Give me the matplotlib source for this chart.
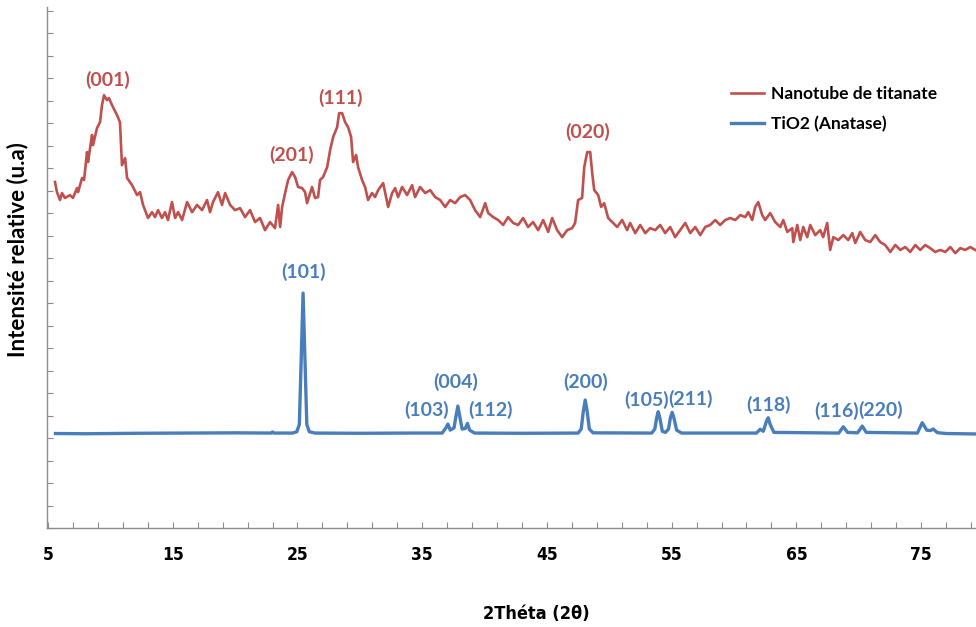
import numpy as np
import matplotlib.pyplot as plt

# XRD patterns: titanate nanotubes vs TiO2 anatase
# values (arbitrary intensity units)

nano_x = [5.56, 5.72, 5.96, 6.12, 6.36, 6.76, 7.00, 7.33, 7.41, 7.73, 7.89, 8.13, 8.21, 8.53,
          8.61, 8.93, 9.17, 9.33, 9.49, 9.73, 9.89, 10.13, 10.53, 10.77, 10.93, 11.18, 11.34,
          11.74, 12.14, 12.38, 12.62, 13.02, 13.34, 13.58, 13.82, 14.14, 14.38, 14.62, 14.94,
          15.19, 15.43, 15.75, 16.15, 16.55, 16.95, 17.35, 17.75, 17.99, 18.23, 18.63, 18.95,
          19.20, 19.60, 20.00, 20.40, 20.80, 21.20, 21.60, 22.00, 22.40, 22.80, 23.20, 23.45,
          23.61, 23.77, 24.01, 24.25, 24.57, 24.81, 25.05, 25.37, 25.61, 25.77, 26.17, 26.41,
          26.65, 26.81, 27.05, 27.38, 27.62, 27.86, 28.18, 28.34, 28.58, 28.82, 29.06, 29.30,
          29.46, 29.70, 29.86, 30.18, 30.42, 30.66, 30.98, 31.22, 31.47, 31.87, 32.27, 32.59,
          32.83, 33.07, 33.39, 33.79, 34.19, 34.43, 34.83, 35.24, 35.64, 36.04, 36.44, 36.84,
          37.24, 37.64, 38.04, 38.44, 38.84, 39.24, 39.65, 40.05, 40.29, 40.69, 41.09, 41.49,
          41.89, 42.29, 42.69, 43.09, 43.49, 43.89, 44.30, 44.70, 45.10, 45.42, 45.82, 46.22,
          46.62, 47.02, 47.26, 47.50, 47.82, 47.99, 48.23, 48.47, 48.63, 48.79, 49.11, 49.35,
          49.59, 49.91, 50.23, 50.63, 51.03, 51.43, 51.67, 52.08, 52.48, 52.88, 53.28, 53.68,
          54.08, 54.48, 54.88, 55.28, 55.68, 56.09, 56.49, 56.89, 57.29, 57.69, 58.09, 58.49,
          58.89, 59.29, 59.70, 60.10, 60.50, 60.90, 61.14, 61.46, 61.70, 61.94, 62.26, 62.50,
          62.90, 63.30, 63.71, 63.95, 64.27, 64.67, 64.75, 65.07, 65.31, 65.55, 65.87, 66.11,
          66.51, 66.91, 67.15, 67.47, 67.71, 67.96, 68.36, 68.76, 69.16, 69.48, 69.72, 70.12,
          70.52, 70.92, 71.32, 71.72, 72.12, 72.53, 72.93, 73.33, 73.73, 74.13, 74.53, 74.93,
          75.33, 75.73, 76.13, 76.54, 76.94, 77.34, 77.74, 78.14, 78.54, 78.94, 79.34]
nano_y = [15.38, 14.93, 14.58, 14.89, 14.67, 14.80, 14.67, 15.11, 14.93, 15.56, 15.47, 16.71, 16.27, 17.47,
          17.02, 17.78, 18.04, 18.80, 19.24, 19.02, 19.11, 18.80, 18.36, 18.04, 16.13, 16.44, 15.56,
          15.24, 14.80, 14.93, 14.36, 13.78, 14.04, 13.82, 14.13, 13.78, 14.04, 13.69, 14.49,
          13.78, 14.04, 13.69, 14.49, 14.04, 14.36, 14.13, 14.58, 14.04, 14.49, 14.93, 14.36,
          14.89, 14.36, 14.13, 14.22, 13.82, 14.13, 13.60, 13.78, 13.24, 13.60, 13.33, 14.36,
          13.38, 14.27, 14.89, 15.47, 15.82, 15.60, 15.16, 15.11, 14.93, 14.44, 15.16, 14.67,
          14.71, 15.47, 15.60, 16.04, 16.80, 17.38, 17.82, 18.44, 18.44, 18.04, 17.82, 17.38,
          16.27, 16.58, 16.04, 15.47, 15.16, 14.58, 14.89, 14.71, 15.02, 15.33, 14.27, 14.89,
          15.11, 14.71, 15.16, 14.80, 15.24, 14.71, 15.16, 14.89, 15.02, 14.71, 14.58, 14.27,
          14.58, 14.44, 14.71, 14.80, 14.58, 14.13, 13.82, 14.44, 14.00, 13.82, 13.69, 13.47,
          13.82, 13.56, 13.47, 13.78, 13.38, 13.60, 13.24, 13.69, 13.16, 13.78, 13.24, 12.93,
          13.24, 13.33, 13.56, 14.58, 14.67, 16.04, 16.71, 16.71, 15.78, 15.02, 14.80, 14.27,
          14.44, 13.78, 13.60, 13.38, 13.69, 13.24, 13.56, 13.11, 13.47, 13.11, 13.33, 13.24,
          13.47, 13.11, 13.38, 12.93, 13.24, 13.56, 13.11, 13.38, 13.02, 13.38, 13.47, 13.69,
          13.47, 13.69, 13.78, 13.69, 13.91, 13.82, 14.04, 13.69, 14.27, 14.49, 13.91, 13.69,
          14.00, 13.60, 13.38, 13.69, 13.16, 13.33, 12.71, 13.47, 12.80, 13.38, 12.93, 13.47,
          13.02, 13.24, 12.93, 13.56, 12.36, 12.93, 12.80, 13.02, 12.80, 13.11, 12.67, 13.16,
          12.80, 12.71, 13.02, 12.71, 12.58, 12.27, 12.58, 12.36, 12.49, 12.27, 12.58, 12.36,
          12.58, 12.44, 12.27, 12.36, 12.27, 12.49, 12.22, 12.44, 12.36, 12.49, 12.36]

anat_x = [5.6, 8.0, 12.0, 16.0, 20.0, 22.9, 23.0, 23.1, 24.6, 24.95, 25.15, 25.3, 25.45, 25.6,
          25.75, 25.95, 26.4, 30.0, 34.0, 36.6, 36.9, 37.06, 37.25, 37.55, 37.72, 37.86, 38.0,
          38.2, 38.45, 38.63, 38.8, 39.2, 43.0, 47.5, 47.75, 47.92, 48.07, 48.22, 48.4, 48.7,
          53.4, 53.65, 53.8, 53.92, 54.05, 54.25, 54.5, 54.75, 54.9, 55.04, 55.18, 55.4, 55.8,
          61.8, 62.1, 62.35, 62.6, 62.74, 62.9, 63.2, 68.4, 68.76, 69.1, 69.9, 70.28, 70.6,
          74.7, 75.09, 75.45, 75.75, 75.97, 76.3, 77.0, 79.4]
anat_y = [4.20, 4.19, 4.21, 4.22, 4.23, 4.22, 4.27, 4.22, 4.22, 4.28, 4.60, 7.50, 10.44, 7.50,
          4.60, 4.28, 4.22, 4.21, 4.22, 4.22, 4.45, 4.62, 4.35, 4.45, 5.00, 5.42, 5.00,
          4.40, 4.42, 4.65, 4.35, 4.22, 4.21, 4.22, 4.40, 5.20, 5.69, 5.20, 4.40, 4.23,
          4.22, 4.40, 4.90, 5.17, 4.90, 4.30, 4.25, 4.40, 4.90, 5.14, 4.90, 4.35, 4.22,
          4.22, 4.39, 4.30, 4.75, 4.90, 4.60, 4.25, 4.22, 4.50, 4.25, 4.23, 4.53, 4.25,
          4.22, 4.68, 4.35, 4.33, 4.40, 4.24, 4.20, 4.18]

nano_peaks = ['(001)', '(201)', '(111)', '(020)']
nano_peak_x = [9.81, 24.49, 28.42, 48.23]
nano_peak_y = [19.91, 16.58, 19.11, 17.60]

anat_peaks = ['(101)', '(103)', '(004)', '(112)', '(200)', '(105)', '(211)', '(118)', '(116)', '(220)']
anat_peak_x = [25.45, 35.32, 37.72, 40.45, 48.07, 52.96, 56.49, 62.74, 68.20, 71.73]
anat_peak_y = [11.38, 5.24, 6.49, 5.24, 6.49, 5.69, 5.73, 5.47, 5.20, 5.24]

red = '#C0504D'
blue = '#4A7EBB'
grey = '#8C8C8C'

label_font = ['Lato', 'DejaVu Sans']

fig = plt.figure(figsize=(9.76, 6.27), dpi=100)
ax = fig.add_axes([47/976, 99/627, 929/976, 521/627])

ax.plot(nano_x, nano_y, color=red, lw=1.9, label='Nanotube de titanate')
ax.plot(anat_x, anat_y, color=blue, lw=2.4, label='TiO2 (Anatase)')

for t, x, y in zip(nano_peaks, nano_peak_x, nano_peak_y):
    ax.text(x, y, t, color=red, fontsize=14, fontweight='bold', family=label_font,
            ha='center', va='center')
for t, x, y in zip(anat_peaks, anat_peak_x, anat_peak_y):
    ax.text(x, y, t, color=blue, fontsize=14, fontweight='bold', family=label_font,
            ha='center', va='center')

ax.set_xlim(4.92, 79.4)
ax.set_ylim(0, 23.16)

for s in ['top', 'right']:
    ax.spines[s].set_visible(False)
for s in ['left', 'bottom']:
    ax.spines[s].set_color(grey)
    ax.spines[s].set_linewidth(1.0)

ax.set_xticks(np.arange(5, 80, 10))
ax.set_xticks(np.arange(5, 80, 2), minor=True)
ax.set_yticks(np.arange(0, 24, 1))
ax.set_yticklabels([])
ax.tick_params(which='both', direction='in', length=4, color=grey, width=0.8)
ax.tick_params(axis='x', which='major', pad=13, labelsize=12.5)
for lb in ax.get_xticklabels():
    lb.set_family('DejaVu Sans')
    lb.set_stretch('condensed')
    lb.set_fontweight('bold')

ax.set_xlabel('2Théta (2θ)', fontsize=13, fontweight='bold', family='DejaVu Sans',
              fontstretch='condensed')
ax.xaxis.set_label_coords((536 - 47)/929, -0.148)
ax.set_ylabel('Intensité relative (u.a)', fontsize=16, fontweight='bold', family=label_font)
ax.yaxis.set_label_coords(-0.020, 0.534)

leg = ax.legend(loc='upper left', bbox_to_anchor=((715 - 47)/929, (528 - 70)/521),
                frameon=False, handlelength=1.9, handletextpad=0.4, labelspacing=0.8,
                prop={'family': label_font, 'weight': 'bold', 'size': 12.5})

fig.savefig('out.png', dpi=100)
